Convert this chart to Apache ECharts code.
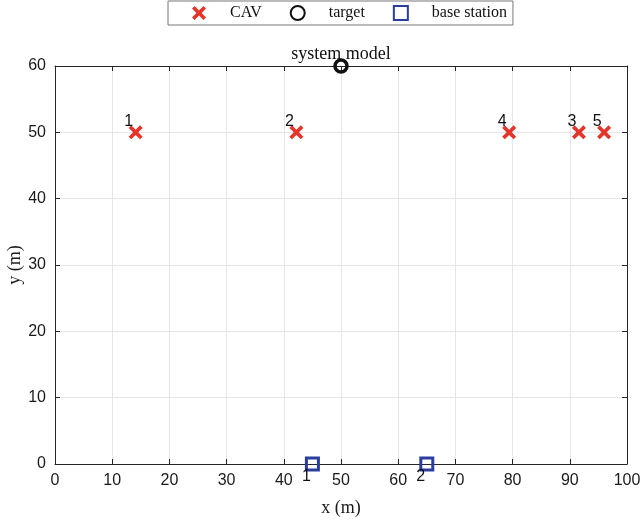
<!DOCTYPE html>
<html>
<head>
<meta charset="utf-8">
<script src="https://cdn.jsdelivr.net/npm/echarts@6/dist/echarts.min.js"></script>
<style>
  html, body { margin: 0; padding: 0; background: #fff; }
  #chart { width: 642px; height: 523px; }
</style>
</head>
<body>
<div id="chart"></div>
<script>
// Connected autonomous vehicles (CAV) on the road at y = 50 m
const cavIds = ['1', '2', '3', '4', '5'];
const cavX = [14.1, 42.2, 91.6, 79.4, 96.0];
const cavY = [50, 50, 50, 50, 50];

// Sensing target
const targetX = [50];
const targetY = [60];

// Base stations along y = 0
const bsIds = ['1', '2'];
const bsX = [45, 65];
const bsY = [0, 0];

// Axis ticks
const xTicks = [0, 10, 20, 30, 40, 50, 60, 70, 80, 90, 100];
const yTicks = [0, 10, 20, 30, 40, 50, 60];

const serif = '"Liberation Serif", "Times New Roman", serif';
const sans = '"Liberation Sans", Arial, Helvetica, sans-serif';
const axisColor = '#262626';

// thick diagonal cross
const crossPath = 'path://M0,2.6L2.6,0L7,4.4L11.4,0L14,2.6L9.6,7L14,11.4L11.4,14L7,9.6L2.6,14L0,11.4L4.4,7Z';

const pairs = (xs, ys, ids) => xs.map((x, i) => ids ? { value: [x, ys[i]], name: ids[i] } : [x, ys[i]]);

const frameX = (pos, show) => ({
  type: 'value', position: pos, min: xTicks[0], max: xTicks[xTicks.length - 1], interval: 10,
  axisLine: { show: true, onZero: false, lineStyle: { color: axisColor, width: 1 } },
  axisTick: { show: true, inside: true, length: 5, lineStyle: { color: axisColor } },
  axisLabel: { show: show, color: '#1a1a1a', fontFamily: sans, fontSize: 16, margin: 9 },
  splitLine: { show: show, lineStyle: { color: '#e6e6e6', width: 1 } },
  name: show ? 'x (m)' : '', nameLocation: 'middle', nameGap: 35, nameMoveOverlap: false,
  nameTextStyle: { fontFamily: serif, fontSize: 18, color: '#1a1a1a' }
});
const frameY = (pos, show) => ({
  type: 'value', position: pos, min: yTicks[0], max: yTicks[yTicks.length - 1], interval: 10,
  axisLine: { show: true, onZero: false, lineStyle: { color: axisColor, width: 1 } },
  axisTick: { show: true, inside: true, length: 5, lineStyle: { color: axisColor } },
  axisLabel: { show: show, color: '#1a1a1a', fontFamily: sans, fontSize: 16, margin: 9 },
  splitLine: { show: show, lineStyle: { color: '#e6e6e6', width: 1 } },
  name: show ? 'y (m)' : '', nameLocation: 'middle', nameGap: 31, nameMoveOverlap: false,
  nameTextStyle: { fontFamily: serif, fontSize: 18, color: '#1a1a1a' }
});

const chart = echarts.init(document.getElementById('chart'), null, { renderer: 'canvas' });
chart.setOption({
  animation: false,
  backgroundColor: '#fff',
  title: {
    text: 'system model', left: 341, textAlign: 'center', top: 45, padding: 0,
    textStyle: { fontFamily: serif, fontSize: 18, fontWeight: 'normal', color: '#111' }
  },
  legend: {
    left: 168, top: 1, orient: 'horizontal',
    padding: [4, 6, 4, 24], itemGap: 28, itemWidth: 14, itemHeight: 14,
    borderColor: '#777', borderWidth: 1, backgroundColor: '#fff',
    textStyle: { fontFamily: serif, fontSize: 16, color: '#111', padding: [0, 0, 0, 19] },
    data: ['CAV', 'target', 'base station']
  },
  grid: { left: 55, right: 15, top: 66, bottom: 59, containLabel: false, outerBoundsMode: 'none' },
  xAxis: [frameX('bottom', true), frameX('top', false)],
  yAxis: [frameY('left', true), frameY('right', false)],
  series: [
    {
      name: 'CAV', type: 'scatter', clip: false, z: 5,
      symbol: crossPath, symbolSize: 14,
      itemStyle: { color: '#e5352a', opacity: 1 },
      label: {
        show: true, position: 'inside', offset: [-7, -11],
        formatter: p => p.name, fontFamily: sans, fontSize: 16, color: '#111'
      },
      data: pairs(cavX, cavY, cavIds)
    },
    {
      name: 'target', type: 'scatter', clip: false, z: 5,
      symbol: 'circle', symbolSize: 12,
      itemStyle: { color: 'rgba(0,0,0,0)', borderColor: '#111', borderWidth: 3.5, opacity: 1 },
      data: pairs(targetX, targetY)
    },
    {
      name: 'base station', type: 'scatter', clip: false, z: 5,
      symbol: 'rect', symbolSize: 12,
      itemStyle: { color: 'rgba(0,0,0,0)', borderColor: '#2b3ea0', borderWidth: 3, opacity: 1 },
      label: {
        show: true, position: 'inside', offset: [-6, 13],
        formatter: p => p.name, fontFamily: sans, fontSize: 16, color: '#111'
      },
      data: pairs(bsX, bsY, bsIds)
    }
  ]
});
</script>
</body>
</html>
